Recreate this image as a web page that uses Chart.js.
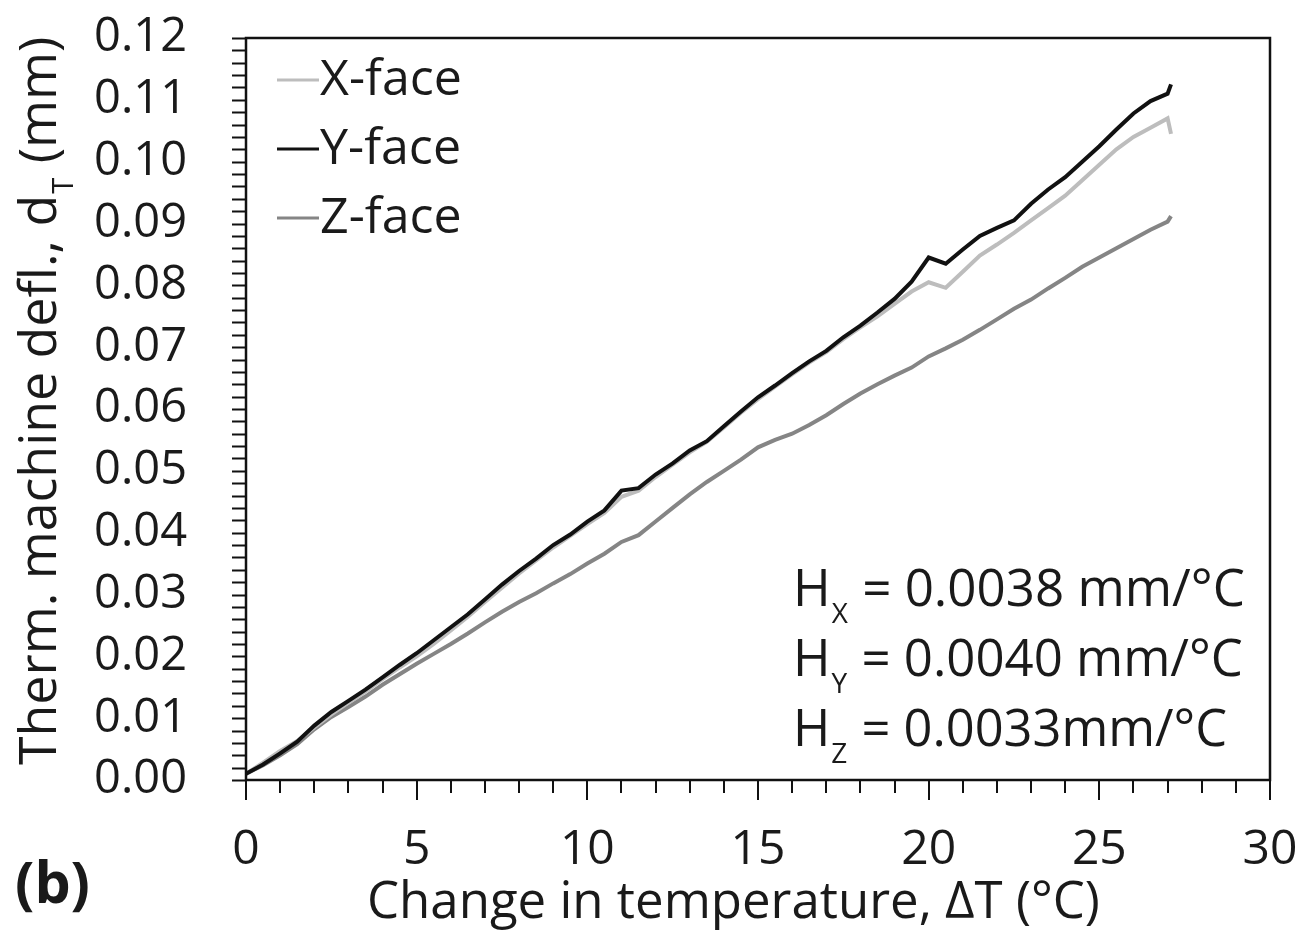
<!DOCTYPE html>
<html>
<head>
<meta charset="utf-8">
<script src="https://cdn.jsdelivr.net/npm/chart.js"></script>
<style>
  html, body { margin: 0; padding: 0; background: #fff; }
  #wrap { width: 1304px; height: 933px; position: relative; }
</style>
</head>
<body>
<div id="wrap"><canvas id="mainChart"></canvas></div>
<script>
// temperature change (°C), shared by the three faces
const temps = [0, 0.5, 1, 1.5, 2, 2.5, 3, 3.5, 4, 4.5, 5, 5.5, 6, 6.5, 7, 7.5, 8, 8.5, 9, 9.5,
  10, 10.5, 11, 11.5, 12, 12.5, 13, 13.5, 14, 14.5, 15, 15.5, 16, 16.5, 17, 17.5, 18, 18.5, 19, 19.5,
  20, 20.5, 21, 21.5, 22, 22.5, 23, 23.5, 24, 24.5, 25, 25.5, 26, 26.5, 27, 27.1];

// deflection (mm)
const xFace = [0.0010, 0.0028, 0.0047, 0.0063, 0.0085, 0.0106, 0.0125, 0.0143, 0.0163, 0.0182,
  0.0200, 0.0220, 0.0242, 0.0264, 0.0288, 0.0311, 0.0334, 0.0355, 0.0376, 0.0395,
  0.0414, 0.0432, 0.0458, 0.0468, 0.0490, 0.0510, 0.0530, 0.0547, 0.0570, 0.0594,
  0.0616, 0.0636, 0.0656, 0.0675, 0.0692, 0.0713, 0.0732, 0.0750, 0.0770, 0.0790,
  0.0805, 0.0796, 0.0822, 0.0848, 0.0866, 0.0885, 0.0905, 0.0925, 0.0945, 0.0970,
  0.0995, 0.1020, 0.1040, 0.1055, 0.1070, 0.1045];

const yFace = [0.0010, 0.0025, 0.0043, 0.0062, 0.0088, 0.0110, 0.0128, 0.0146, 0.0166, 0.0186,
  0.0205, 0.0226, 0.0247, 0.0268, 0.0292, 0.0316, 0.0338, 0.0358, 0.0380, 0.0397,
  0.0418, 0.0436, 0.0468, 0.0472, 0.0494, 0.0512, 0.0533, 0.0548, 0.0572, 0.0596,
  0.0619, 0.0638, 0.0658, 0.0677, 0.0694, 0.0716, 0.0735, 0.0756, 0.0778, 0.0806,
  0.0845, 0.0835, 0.0858, 0.0880, 0.0893, 0.0905, 0.0932, 0.0955, 0.0975, 0.1000,
  0.1025, 0.1052, 0.1078, 0.1098, 0.1110, 0.1125];

const zFace = [0.0010, 0.0024, 0.0040, 0.0058, 0.0082, 0.0102, 0.0118, 0.0135, 0.0154, 0.0171,
  0.0188, 0.0204, 0.0220, 0.0237, 0.0255, 0.0272, 0.0288, 0.0302, 0.0318, 0.0333,
  0.0350, 0.0366, 0.0385, 0.0396, 0.0418, 0.0440, 0.0462, 0.0482, 0.0500, 0.0518,
  0.0538, 0.0550, 0.0560, 0.0574, 0.0590, 0.0608, 0.0625, 0.0640, 0.0654, 0.0667,
  0.0685, 0.0698, 0.0712, 0.0728, 0.0745, 0.0762, 0.0777, 0.0795, 0.0812, 0.0830,
  0.0845, 0.0860, 0.0875, 0.0890, 0.0903, 0.0912];

const seriesNames = ["X-face", "Y-face", "Z-face"];
const seriesColors = ["#bdbdbd", "#111111", "#858585"];

const slopeNotes = [
  ["H", "X", " = 0.0038 mm/°C"],
  ["H", "Y", " = 0.0040 mm/°C"],
  ["H", "Z", " = 0.0033mm/°C"]
];

const FONT = "'Open Sans', 'Noto Sans', sans-serif";
const TXT = "#1a1a1a";

function toPoints(vals) {
  return vals.map((v, i) => ({ x: temps[i], y: v }));
}

// width of main + subscript + rest at a given size
function subWidth(ctx, parts, size) {
  ctx.font = size + "px " + FONT;
  let w = ctx.measureText(parts[0]).width + ctx.measureText(parts[2]).width;
  ctx.font = Math.round(size * 0.55) + "px " + FONT;
  return w + ctx.measureText(parts[1]).width + 2;
}

// text with a subscript part, left edge at x, font sized to a target width
function subText(ctx, x, y, parts, width) {
  const size = 48 * width / subWidth(ctx, parts, 48);
  const big = size + "px " + FONT;
  const small = Math.round(size * 0.55) + "px " + FONT;
  ctx.textAlign = "left";
  ctx.textBaseline = "alphabetic";
  ctx.font = big;
  const w1 = ctx.measureText(parts[0]).width;
  ctx.fillText(parts[0], x, y);
  ctx.font = small;
  const w2 = ctx.measureText(parts[1]).width;
  ctx.fillText(parts[1], x + w1 + 1, y + size * 0.33);
  ctx.font = big;
  ctx.fillText(parts[2], x + w1 + w2 + 2, y);
}

function fitFont(ctx, text, width, bold) {
  ctx.font = (bold ? "bold " : "") + "48px " + FONT;
  const s = 48 * width / ctx.measureText(text).width;
  return (bold ? "bold " : "") + s + "px " + FONT;
}

const decoPlugin = {
  id: "deco",
  afterDraw(chart) {
    const ctx = chart.ctx;
    const a = chart.chartArea;
    const xs = chart.scales.x, ys = chart.scales.y;
    ctx.save();

    // frame
    ctx.strokeStyle = "#111";
    ctx.lineWidth = 2.5;
    ctx.strokeRect(a.left, a.top, a.right - a.left, a.bottom - a.top);

    // tick marks
    ctx.lineWidth = 2;
    ctx.beginPath();
    for (let t = 0; t <= 30; t++) {
      const px = Math.round(xs.getPixelForValue(t));
      ctx.moveTo(px, a.bottom);
      ctx.lineTo(px, a.bottom + (t % 5 === 0 ? 20 : 13));
    }
    for (let k = 0; k <= 60; k++) {
      const py = Math.round(ys.getPixelForValue(k * 0.002)) + 0.5;
      ctx.moveTo(a.left, py);
      ctx.lineTo(a.left - 14, py);
    }
    ctx.stroke();

    ctx.fillStyle = TXT;

    // legend
    const legFont = fitFont(ctx, "X-face", 142, false);
    seriesNames.forEach((name, i) => {
      const ly = 80 + i * 69;
      ctx.strokeStyle = seriesColors[i];
      ctx.lineWidth = 3;
      ctx.beginPath();
      ctx.moveTo(277, ly);
      ctx.lineTo(319, ly);
      ctx.stroke();
      ctx.font = legFont;
      ctx.textAlign = "left";
      ctx.textBaseline = "middle";
      ctx.fillText(name, 320, ly + 1);
    });

    // slope notes
    const noteW = [452, 450, 434];
    slopeNotes.forEach((p, i) => {
      subText(ctx, 793, 606 + i * 70, p, noteW[i]);
    });

    // y title
    ctx.save();
    ctx.translate(56, 765);
    ctx.rotate(-Math.PI / 2);
    subText(ctx, 0, 0, ["Therm. machine defl., d", "T", " (mm)"], 728);
    ctx.restore();

    // x title
    ctx.font = fitFont(ctx, "Change in temperature, \u0394T (\u00B0C)", 733, false);
    ctx.textAlign = "left";
    ctx.textBaseline = "alphabetic";
    ctx.fillText("Change in temperature, \u0394T (\u00B0C)", 367, 918);

    // panel label
    ctx.font = fitFont(ctx, "(b)", 75, true);
    ctx.fillText("(b)", 15, 903);

    ctx.restore();
  }
};

new Chart(document.getElementById("mainChart"), {
  type: "line",
  data: {
    datasets: [
      { label: seriesNames[0], data: toPoints(xFace), borderColor: seriesColors[0], order: 1 },
      { label: seriesNames[1], data: toPoints(yFace), borderColor: seriesColors[1], order: 0 },
      { label: seriesNames[2], data: toPoints(zFace), borderColor: seriesColors[2], order: 2 }
    ]
  },
  options: {
    responsive: true,
    maintainAspectRatio: false,
    animation: false,
    datasets: { line: { borderWidth: 4, pointRadius: 0, tension: 0, fill: false } },
    layout: { padding: { top: 38, right: 34, left: 0, bottom: 0 } },
    plugins: { legend: { display: false }, tooltip: { enabled: false } },
    scales: {
      x: {
        type: "linear",
        min: 0, max: 30,
        grid: { display: false },
        border: { display: false },
        ticks: { stepSize: 5, padding: 34, color: TXT, font: { family: FONT, size: 48 } },
        afterFit(s) { s.height = 153; s.paddingLeft = 0; s.paddingRight = 0; }
      },
      y: {
        min: 0, max: 0.12,
        grid: { display: false },
        border: { display: false },
        ticks: {
          stepSize: 0.01, padding: 51, color: TXT, font: { family: FONT, size: 47 },
          callback: v => v.toFixed(2)
        },
        afterFit(s) { s.width = 246; s.paddingTop = 0; s.paddingBottom = 0; }
      }
    }
  },
  plugins: [decoPlugin]
});
</script>
</body>
</html>
